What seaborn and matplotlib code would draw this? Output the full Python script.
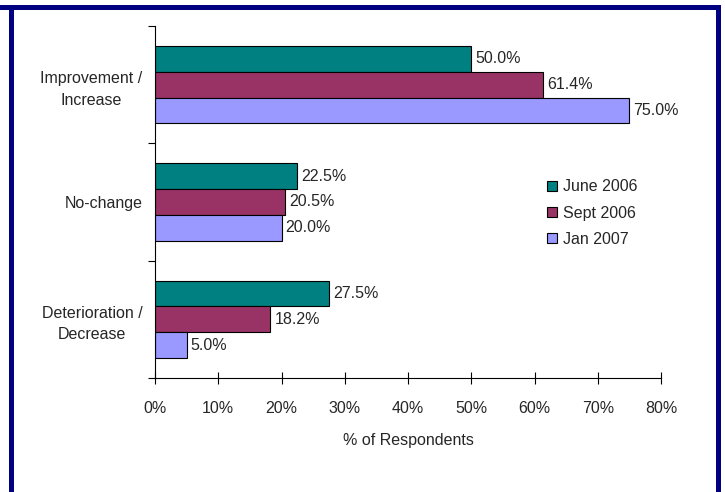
import matplotlib
matplotlib.use("Agg")
import matplotlib.pyplot as plt
from matplotlib.patches import Rectangle
from matplotlib.ticker import FuncFormatter, FixedLocator
import seaborn as sns
import pandas as pd

categories = ["Improvement /\nIncrease", "No-change", "Deterioration /\nDecrease"]
series = ["June 2006", "Sept 2006", "Jan 2007"]
june_2006 = [50.0, 22.5, 27.5]
sept_2006 = [61.4, 20.5, 18.2]
jan_2007 = [75.0, 20.0, 5.0]
x_ticks = [0, 10, 20, 30, 40, 50, 60, 70, 80]
colors = ["#008080", "#993366", "#9999FF"]

rows = []
for name, vals in zip(series, [june_2006, sept_2006, jan_2007]):
    for cat, v in zip(categories, vals):
        rows.append({"category": cat, "period": name, "value": v})
df = pd.DataFrame(rows)

sns.set_style("white")
plt.rcParams["font.family"] = ["Liberation Sans", "DejaVu Sans"]
FS = 11.5

fig = plt.figure(figsize=(7.25, 4.92), dpi=100)
ax = fig.add_axes([155 / 725, 1 - 378 / 492, (661 - 155) / 725, (378 - 26) / 492])

sns.barplot(data=df, y="category", x="value", hue="period", hue_order=series,
            order=categories, palette=colors, saturation=1, orient="h", width=0.66,
            edgecolor="black", linewidth=0.8, ax=ax, legend=False)

for cont in ax.containers:
    ax.bar_label(cont, fmt="%.1f%%", padding=3, fontsize=FS)

ax.set_xlim(0, 80)
ax.set_ylim(2.5, -0.5)
ax.xaxis.set_major_locator(FixedLocator(x_ticks))
ax.xaxis.set_major_formatter(FuncFormatter(lambda v, p: f"{v:.0f}%"))
ax.set_xlabel("% of Respondents", fontsize=FS, labelpad=12)
ax.set_ylabel("")

ax.yaxis.set_minor_locator(FixedLocator([-0.5, 0.5, 1.5, 2.5]))
ax.tick_params(axis="y", which="major", left=False, length=0, pad=9, labelsize=FS)
ax.tick_params(axis="y", which="minor", left=True, length=5, width=0.8,
               color="black", direction="out")
ax.tick_params(axis="x", which="major", bottom=True, length=9, width=0.8, color="black",
               direction="inout", labelsize=FS, pad=12)
for lbl in ax.get_yticklabels():
    lbl.set_multialignment("center")
    lbl.set_linespacing(1.55)

for side in ["top", "right"]:
    ax.spines[side].set_visible(False)
for side in ["left", "bottom"]:
    ax.spines[side].set_color("black")
    ax.spines[side].set_linewidth(0.8)

handles = [Rectangle((0, 0), 1, 1, facecolor=c, edgecolor="black", linewidth=0.8) for c in colors]
ax.legend(handles, series, frameon=False, fontsize=FS, loc="upper left",
          bbox_to_anchor=(533 / 725, 1 - 165 / 492), bbox_transform=fig.transFigure,
          handlelength=0.6, handleheight=0.6, handletextpad=0.35, labelspacing=0.7)

# navy page frame
navy = "#000080"
fig.patches.append(Rectangle((0, 1 - 10 / 492), 721 / 725, 5 / 492, transform=fig.transFigure,
                             facecolor=navy, edgecolor="none"))
fig.patches.append(Rectangle((9 / 725, 0), 5 / 725, 1 - 5 / 492, transform=fig.transFigure,
                             facecolor=navy, edgecolor="none"))
fig.patches.append(Rectangle((716 / 725, 0), 5 / 725, 1 - 5 / 492, transform=fig.transFigure,
                             facecolor=navy, edgecolor="none"))

fig.savefig("out.png", dpi=100, facecolor="white")
